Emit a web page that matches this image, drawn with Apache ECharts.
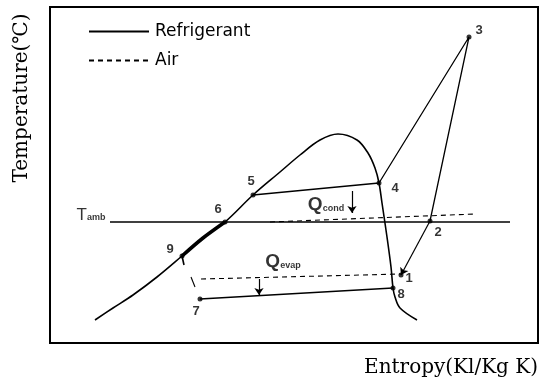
<!DOCTYPE html>
<html><head><meta charset="utf-8">
<script src="https://cdn.jsdelivr.net/npm/echarts@6/dist/echarts.min.js"></script>
<style>html,body{margin:0;padding:0;background:#fff;}#c{width:551px;height:381px;}</style>
</head><body><div id="c"></div>
<script>
// Entropy (s, arbitrary units) vs Temperature (T, arbitrary units) – schematic T-s diagram
const domeCurve = [[45,23],[63,35],[83,48],[107,66],[132,87],[153,105],[175,121],[203,148],[230,171],[250,188],[270,203],[288,209],[307,203],[318,190],[325,175],[329,160],[332,140],[337,106],[341,76],[343,55],[345,46],[350,35],[367,23]];
const subcoolSeg = [[175,121],[153,105],[132,87]];
const tick9 = [[132,87],[134,78]];
const condPath = [[203,148],[329,160],[419,306],[380,122]];   // 5-4-3-2
const evapPath = [[150,44],[343,55]];                          // 7-8
const compToOne = [[380,122],[351,68]];                        // 2-1
const tambLine = [[60,121],[460,121]];
const airCond = [[220,121],[425,129]];
const airEvap = [[151,64],[351,69]];
const airStub = [[141,66],[145,56]];
const pointNames = ['3','4','5','6','9','7','8','1','2'];
const pointCoords = [[419,306],[329,160],[203,148],[175,121],[132,87],[150,44],[343,55],[351,68],[380,122]];
const qCondArrow = [[302,152],[302,130]];
const qEvapArrow = [[209,64],[209,48]];
const textNames = ['Q|cond','Q|evap','T|amb'];
const textAnchors = [[276,138],[233,81],[41,128]];

// label placement (presentation only)
const labelOffsets = {'3':[10,-7],'4':[16,5],'5':[-2,-14],'6':[-7,-13],'9':[-12,-7],'7':[-4,12],'8':[8,6],'1':[8,3],'2':[8,11]};

const black = '#000';
const refLine = {color: black, width: 1.6, type: 'solid'};
const airLine = {color: black, width: 1.1, type: [5,4]};
function lineSeries(name, data, style, extra) {
  return Object.assign({type:'line', name, data, symbol:'none', showSymbol:false, silent:true,
    lineStyle: style, itemStyle:{color: black}, animation:false}, extra||{});
}
function arrowSeries(coords) {
  return {type:'lines', coordinateSystem:'cartesian2d', silent:true, animation:false,
    symbol:['none','arrow'], symbolSize:7,
    lineStyle:{color:black, width:1.2, opacity:1},
    data:[{coords: coords}]};
}

const chart = echarts.init(document.getElementById('c'), null, {renderer:'canvas'});
chart.setOption({
  backgroundColor:'#fff',
  animation:false,
  grid:{left:50, top:7, width:488, height:336, show:true, borderColor:black, borderWidth:2, backgroundColor:'transparent'},
  xAxis:{type:'value', min:0, max:488, axisLine:{show:false}, axisTick:{show:false}, axisLabel:{show:false}, splitLine:{show:false}},
  yAxis:{type:'value', min:0, max:336, axisLine:{show:false}, axisTick:{show:false}, axisLabel:{show:false}, splitLine:{show:false}},
  legend:{
    data:['Refrigerant','Air'], orient:'vertical', left:88, top:23, padding:0, itemWidth:60, itemHeight:16, itemGap:12,
    itemStyle:{opacity:0},
    textStyle:{fontFamily:'DejaVu Sans', fontSize:17, color:black, padding:[0,0,0,1]}, selectedMode:false
  },
  title:{text:'Entropy(Kl/Kg K)', right:13, top:358, padding:0,
    textStyle:{fontFamily:'DejaVu Serif', fontWeight:'normal', fontSize:20, color:black}},
  graphic:[{type:'text', x:22, y:98, rotation:Math.PI/2,
    style:{text:'Temperature(℃)', font:'20px "DejaVu Serif"', fill:black, textAlign:'center', textVerticalAlign:'middle'}}],
  series:[
    lineSeries('Refrigerant', domeCurve, refLine, {smooth:0.35}),
    lineSeries('Refrigerant', subcoolSeg, {color:black, width:3.6}, {smooth:0.3}),
    lineSeries('Refrigerant', tick9, refLine),
    lineSeries('Refrigerant', condPath, {color:black, width:1.3}),
    lineSeries('Refrigerant', evapPath, {color:black, width:1.5}),
    arrowSeries(compToOne),
    lineSeries('Tamb', tambLine, {color:black, width:1.4}),
    lineSeries('Air', airCond, airLine),
    lineSeries('Air', airEvap, airLine),
    lineSeries('Air', airStub, {color:black, width:1.1}),
    arrowSeries(qCondArrow),
    arrowSeries(qEvapArrow),
    {type:'scatter', silent:true, animation:false, symbolSize:5, itemStyle:{color:black},
      data: pointNames.map((n,i)=>({name:n, value:pointCoords[i],
        label:{show:true, position:'inside', offset:labelOffsets[n], formatter:n,
          fontFamily:'Liberation Sans', fontWeight:'bold', fontSize:13, color:black}}))},
    {type:'scatter', silent:true, animation:false, symbolSize:0,
      data: textNames.map((t,i)=>{const p=t.split('|'); return {value:textAnchors[i],
        label:{show:true, position:'inside', formatter:'{a|'+p[0]+'}{b|'+p[1]+'}',
          rich:{a:{fontFamily:'Liberation Sans', fontSize:p[0]==='T'?17:19, fontWeight:p[0]==='T'?'normal':'bold', color:black, verticalAlign:'bottom'},
                b:{fontFamily:'Liberation Sans', fontSize:9, fontWeight:'bold', color:black, verticalAlign:'bottom', padding:[0,0,1,0]}}}};})}
  ]
});
</script></body></html>
